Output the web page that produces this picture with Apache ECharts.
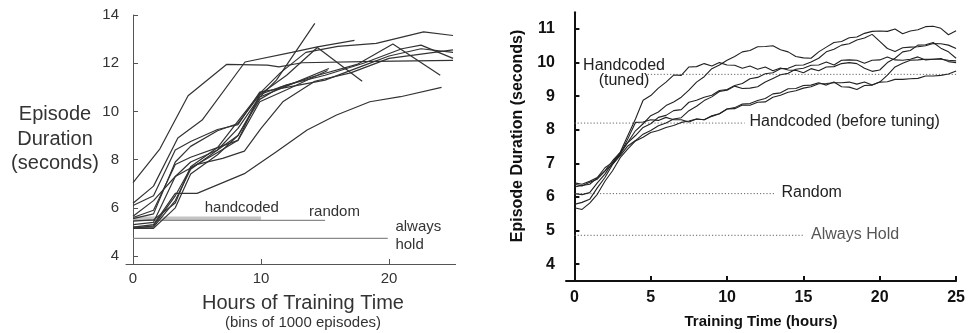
<!DOCTYPE html>
<html><head><meta charset="utf-8">
<script src="https://cdn.jsdelivr.net/npm/echarts@6/dist/echarts.min.js"></script>
<style>html,body{margin:0;padding:0;background:#fff}#c{width:968px;height:333px}</style>
</head><body><div id="c"></div>
<script>
// ---------- Left panel data ----------
const leftTicksX = [0, 10, 20];
const leftTicksY = [4, 6, 8, 10, 12, 14];
const leftRun1 = [[0,7.05],[2.1,8.45],[4.3,10.65],[7.3,11.95],[10.5,11.92],[11.4,11.85],[13.2,12.02],[19,12.08],[25,12.12]];
const leftRun2 = [[0,6.19],[1.6,6.9],[3.5,8.9],[5.4,9.64],[8.75,12.05],[12.4,12.45],[14.4,12.68],[17.3,12.95]];
const leftRun3 = [[0,5.2],[1.6,5.2],[3.3,6.3],[4.5,7.6],[6.6,8.4],[8.2,9.3],[9.9,10.6],[11.2,11.3],[14.2,13.65]];
const leftRun4 = [[0,5.55],[1.6,5.75],[3.3,7.9],[4.5,8.55],[6.6,9.2],[8.2,9.5],[9.9,10.7],[12,11.5],[14.4,12.65],[17.9,11.25]];
const leftRun5 = [[0,5.3],[1.6,5.4],[3.3,7.3],[4.5,7.9],[6.6,8.4],[8.2,9.0],[9.9,10.6],[12,11.05],[15.3,11.78]];
const leftRun6 = [[0,5.15],[1.6,5.15],[3.3,6.0],[4.5,7.4],[6.6,8.2],[8.2,9.0],[9.9,10.5],[11.5,11.0],[14.1,11.45],[17.5,11.95],[20.3,12.8],[24,11.5]];
const leftRun7 = [[0,5.6],[1.6,5.9],[3.3,7.8],[4.5,8.1],[6.6,8.5],[8.2,9.6],[9.9,10.75],[11.5,11.6],[13.5,12.45],[16,12.7],[19,12.82],[22.7,13.3],[25,13.15]];
const leftRun8 = [[0,6.1],[1.6,6.5],[3.3,8.4],[4.5,8.75],[6.6,9.25],[8.2,9.45],[9.9,10.8],[12,11.0],[15,11.3],[18,11.9],[20,12.3],[22.5,12.6],[25,12.45]];
const leftRun9 = [[0,5.2],[1.6,5.3],[3.3,6.6],[5,6.6],[8.75,7.43],[11.2,8.33],[13.6,9.23],[15.9,9.85],[18.5,10.4],[20.9,10.61],[24.1,11.0]];
const leftRun10 = [[0,5.65],[1.6,6.3],[3.3,7.3],[5,7.8],[7,8.05],[8.7,8.35],[10,9.3],[11.7,10.4],[14.2,11.25],[17,11.6],[20,12.2],[25,12.55]];
const leftRun11 = [[0,5.45],[1.6,5.5],[3.3,6.2],[4.5,7.7],[6.6,8.5],[8.2,8.8],[9.9,10.7],[12,11.1],[15,11.5],[18,12.0],[21,12.6],[22.5,12.75],[25,12.2]];
const leftRun12 = [[0,5.15],[1.6,5.25],[3.3,6.5],[4.5,7.65],[6.6,8.3],[8.2,8.8],[9.9,10.4],[12,10.9],[15.2,11.7]];
const leftRuns = [leftRun1,leftRun2,leftRun3,leftRun4,leftRun5,leftRun6,leftRun7,leftRun8,leftRun9,leftRun10,leftRun11,leftRun12];

const leftRefNames = ['handcoded', 'random', 'always\nhold'];
const leftRefValues = [5.56, 5.48, 4.73];
const leftRefStart = [0, 0, 0];
const leftRefEnd = [10, 15, 19.9];
const leftRefLabelAt = [[8.5, 5.99], [13.75, 5.83], [20.5, 4.83]];

// ---------- Right panel data ----------
const rightTicksX = [0, 5, 10, 15, 20, 25];
const rightTicksY = [4, 5, 6, 7, 8, 9, 10, 11];
const rightTime = [0,0.5,1,1.5,2,2.5,3,3.5,4,4.5,5,5.5,6,6.5,7,7.5,8,8.5,9,9.5,10,10.5,11,11.5,12,12.5,13,13.5,14,14.5,15,15.5,16,16.5,17,17.5,18,18.5,19,19.5,20,20.5,21,21.5,22,22.5,23,23.5,24,24.5,25];
const rightRunA = [6.30,6.34,6.38,6.57,6.78,7.08,7.33,7.83,8.32,8.88,9.02,9.24,9.42,9.63,9.62,9.87,9.88,9.97,9.90,10.00,9.93,9.92,9.83,9.90,9.80,9.87,9.76,9.84,9.78,9.77,9.70,9.82,9.76,9.87,9.88,9.97,10.00,9.97,9.83,9.74,9.78,10.00,10.13,10.32,10.36,10.52,10.53,10.60,10.43,10.32,10.13];
const rightRunB = [6.42,6.38,6.47,6.58,6.87,7.03,7.32,7.63,7.97,8.18,8.42,8.53,8.72,8.83,8.97,9.18,9.42,9.58,9.82,9.93,10.07,10.18,10.32,10.36,10.47,10.48,10.50,10.38,10.32,10.18,10.14,10.13,10.32,10.46,10.60,10.63,10.74,10.76,10.87,10.93,10.94,10.93,11.00,10.86,10.94,10.98,11.07,11.08,11.02,10.83,10.95];
const rightRunC = [6.10,6.07,6.13,6.42,6.68,7.02,7.28,7.62,7.83,8.07,8.18,8.37,8.43,8.57,8.60,8.82,8.88,8.97,9.03,9.17,9.20,9.32,9.38,9.52,9.56,9.67,9.70,9.82,9.83,9.92,9.93,10.02,10.13,10.32,10.40,10.52,10.56,10.67,10.73,10.84,10.63,10.42,10.33,10.44,10.46,10.47,10.50,10.57,10.56,10.52,10.42];
const rightRunD = [5.78,5.84,5.93,6.27,6.58,6.97,7.23,7.52,7.68,7.87,7.98,8.12,8.20,8.32,8.36,8.57,8.70,8.87,8.98,9.14,9.18,9.30,9.23,9.24,9.28,9.42,9.53,9.64,9.68,9.80,9.83,9.92,9.93,10.02,9.93,10.07,10.08,10.07,9.98,10.07,10.08,10.17,10.08,10.07,10.10,10.17,10.08,10.10,10.10,10.07,10.05];
const rightRunE = [6.38,6.33,6.44,6.53,6.77,6.98,7.27,7.73,8.22,8.23,8.30,8.28,8.37,8.30,8.30,8.23,8.32,8.30,8.42,8.48,8.62,8.66,8.77,8.78,8.87,8.93,9.07,9.10,9.22,9.23,9.32,9.33,9.40,9.33,9.42,9.28,9.27,9.20,9.32,9.33,9.42,9.63,9.87,9.98,10.07,10.08,10.10,10.10,10.12,10.03,10.00];
const rightRunF = [5.68,5.63,5.82,6.08,6.47,6.78,7.17,7.43,7.67,7.78,7.92,7.98,8.07,8.13,8.22,8.26,8.32,8.30,8.40,8.48,8.62,8.63,8.74,8.73,8.82,8.83,8.97,9.03,9.12,9.16,9.24,9.28,9.37,9.38,9.40,9.40,9.42,9.36,9.42,9.33,9.42,9.43,9.50,9.50,9.52,9.53,9.60,9.60,9.62,9.66,9.75];
const rightRuns = [rightRunA,rightRunB,rightRunC,rightRunD,rightRunE,rightRunF];

const rightRefNames = ['Handcoded\n(tuned)', 'Handcoded (before tuning)', 'Random', 'Always Hold'];
const rightRefValues = [9.65, 8.2, 6.1, 4.86];
const rightRefStart = [4.8, 0, 0, 0];
const rightRefEnd = [25, 11.15, 13.1, 15.05];
const rightRefLabelAt = [[3.25, 9.68], [11.47, 8.24], [13.56, 6.14], [15.5, 4.89]];
const rightRefLabelColor = ['#222', '#222', '#222', '#555'];

// ---------- Chart ----------
const chart = echarts.init(document.getElementById('c'), null, {renderer: 'canvas'});
const FONT = 'Liberation Sans, Arial, Helvetica, sans-serif';

const series = [];
leftRefValues.forEach((v, i) => {
  series.push({
    type: 'line', xAxisIndex: 0, yAxisIndex: 0, symbol: 'none', silent: true, z: 1,
    data: [[leftRefStart[i], v], [leftRefEnd[i], v]],
    lineStyle: i === 0 ? {color: '#c4c4c4', width: 4} : {color: '#8a8a8a', width: 1.2}
  });
});
leftRuns.forEach(r => {
  series.push({type: 'line', xAxisIndex: 0, yAxisIndex: 0, symbol: 'none', silent: true, z: 3,
    data: r, lineStyle: {color: '#333', width: 1.2}});
});
rightRefValues.forEach((v, i) => {
  series.push({
    type: 'line', xAxisIndex: 1, yAxisIndex: 1, symbol: 'none', silent: true, z: 1,
    data: [[rightRefStart[i], v], [rightRefEnd[i], v]],
    lineStyle: {color: '#666', width: 1, type: [1.2, 2]}
  });
});
rightRuns.forEach(r => {
  series.push({type: 'line', xAxisIndex: 1, yAxisIndex: 1, symbol: 'none', silent: true, z: 3,
    data: rightTime.map((t, k) => [t, r[k]]), lineStyle: {color: '#222', width: 1.1}});
});

const option = {
  animation: false,
  backgroundColor: '#fff',
  grid: [
    {left: 126, top: 15, width: 329.6, height: 249},
    {left: 566, top: 12.2, width: 390.7, height: 268.8}
  ],
  xAxis: [
    {gridIndex: 0, type: 'value', min: -0.55, max: 25.2,
     axisLine: {show: true, lineStyle: {color: '#555', width: 1}},
     axisTick: {show: true, inside: true, length: 5, customValues: leftTicksX, lineStyle: {color: '#555'}},
     axisLabel: {customValues: leftTicksX, fontSize: 15, color: '#333', margin: 7, fontFamily: FONT},
     splitLine: {show: false}},
    {gridIndex: 1, type: 'value', min: -0.55, max: 25,
     axisLine: {show: true, lineStyle: {color: '#111', width: 2}},
     axisTick: {show: true, inside: true, length: 5, customValues: rightTicksX, lineStyle: {color: '#111', width: 2}},
     axisLabel: {customValues: rightTicksX, fontSize: 16, fontWeight: 'bold', color: '#111', margin: 9, fontFamily: FONT},
     splitLine: {show: false}}
  ],
  yAxis: [
    {gridIndex: 0, type: 'value', min: 3.67, max: 14,
     axisLine: {show: true, lineStyle: {color: '#555', width: 1}},
     axisTick: {show: true, inside: true, length: 5, customValues: leftTicksY, lineStyle: {color: '#555'}},
     axisLabel: {customValues: leftTicksY, fontSize: 15, color: '#333', margin: 7, fontFamily: FONT},
     splitLine: {show: false}},
    {gridIndex: 1, type: 'value', min: 3.5, max: 11.5,
     axisLine: {show: true, lineStyle: {color: '#111', width: 2}},
     axisTick: {show: true, inside: true, length: 5, customValues: rightTicksY, lineStyle: {color: '#111', width: 2}},
     axisLabel: {customValues: rightTicksY, fontSize: 16, fontWeight: 'bold', color: '#111', margin: 11, fontFamily: FONT},
     splitLine: {show: false}}
  ],
  series: series
};
chart.setOption(option);

const graphics = [
  {type: 'text', x: 55, y: 139, style: {text: 'Episode\nDuration\n(seconds)', font: '20px ' + FONT, fill: '#333', align: 'center', verticalAlign: 'middle', lineHeight: 24.5}},
  {type: 'text', x: 303, y: 303, style: {text: 'Hours of Training Time', font: '20px ' + FONT, fill: '#333', align: 'center', verticalAlign: 'middle'}},
  {type: 'text', x: 303, y: 323, style: {text: '(bins of 1000 episodes)', font: '15px ' + FONT, fill: '#333', align: 'center', verticalAlign: 'middle'}},
  {type: 'text', x: 518, y: 136, rotation: Math.PI / 2, style: {text: 'Episode Duration (seconds)', font: 'bold 16px ' + FONT, fill: '#111', align: 'center', verticalAlign: 'middle'}},
  {type: 'text', x: 761, y: 322, style: {text: 'Training Time (hours)', font: 'bold 15px ' + FONT, fill: '#111', align: 'center', verticalAlign: 'middle'}}
];
leftRefNames.forEach((n, i) => {
  const p = chart.convertToPixel({gridIndex: 0}, leftRefLabelAt[i]);
  graphics.push({type: 'text', x: p[0], y: p[1], style: {text: n, font: '15px ' + FONT, fill: '#333',
    align: i === 0 ? 'center' : 'left', verticalAlign: 'middle', lineHeight: 18}});
});
rightRefNames.forEach((n, i) => {
  const p = chart.convertToPixel({gridIndex: 1}, rightRefLabelAt[i]);
  graphics.push({type: 'text', x: p[0], y: p[1], style: {text: n, font: '16px ' + FONT, fill: rightRefLabelColor[i],
    align: i === 0 ? 'center' : 'left', verticalAlign: 'middle', lineHeight: 15}});
});
chart.setOption({graphic: graphics});
</script>
</body></html>
